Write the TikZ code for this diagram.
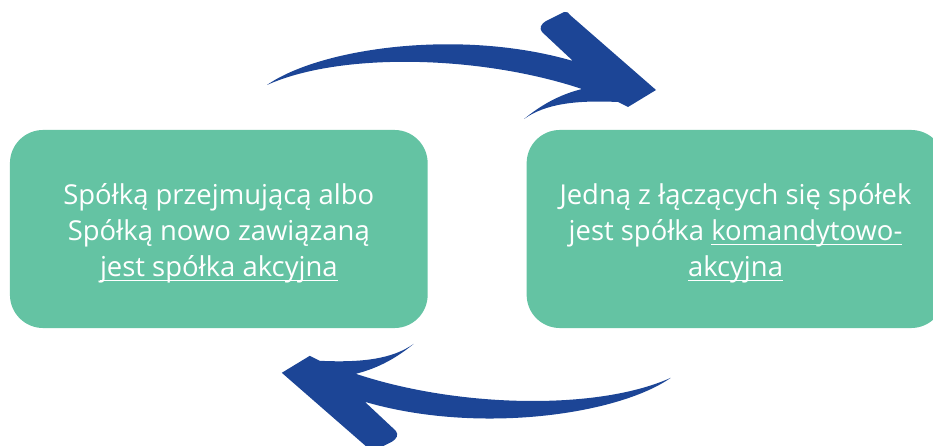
\documentclass[tikz,border=0pt]{standalone}
\usepackage{fontspec}
\setmainfont{Open Sans}
\definecolor{zielony}{RGB}{100,195,163}
\definecolor{granat}{RGB}{28,69,150}
\newlength\podkrw
\newcommand\podkr[1]{\settowidth\podkrw{#1}\rlap{#1}\rule[-0.18em]{\podkrw}{0.06em}}
\newcommand\odstep{\rule{0pt}{21pt}}
\newcommand\strzalka{%
\coordinate (ogon) at (267,85);
\coordinate (wciecie) at (573,61);
\coordinate (grotl) at (542,32);
\coordinate (grotg) at (570,15);
\coordinate (czubek) at (656,90);
\coordinate (grotd) at (628,107);
\coordinate (zadzior) at (524,119);
\coordinate (spod) at (582,89);
\fill[granat] (ogon) .. controls (320,48) and (460,28) .. (wciecie)
  -- (grotl) .. controls (539,28) and (541,24) .. (546,21)
  -- (564,12) .. controls (567,11) and (569,13) .. (grotg)
  -- (czubek) -- (grotd) -- (618,102)
  .. controls (575,100) and (545,104) .. (zadzior)
  .. controls (540,106) and (558,95) .. (spod)
  .. controls (480,55) and (340,52) .. (ogon) -- cycle;
}
\tikzset{
  pole/.style={fill=zielony, rounded corners=0.83cm, minimum width=10.44cm,
    minimum height=4.95cm, inner sep=0pt, text=white, align=center,
    font=\fontsize{19.5}{25.6}\selectfont}
}
\begin{document}
\begin{tikzpicture}[x=0.025cm, y=-0.025cm]
\useasboundingbox (0,0) rectangle (933,446);
\node[pole] (lewy) at (218.8,229) {\odstep Spółką przejmującą albo\\Spółką nowo zawiązaną\\\podkr{jest spółka akcyjna}};
\node[pole] (prawy) at (735.5,229) {\odstep Jedną z łączących się spółek\\jest spółka \podkr{komandytowo-}\\\podkr{akcyjna}};
\strzalka
\begin{scope}[rotate around={180:(468.9,231.4)}]
\strzalka
\end{scope}
\end{tikzpicture}
\end{document}
